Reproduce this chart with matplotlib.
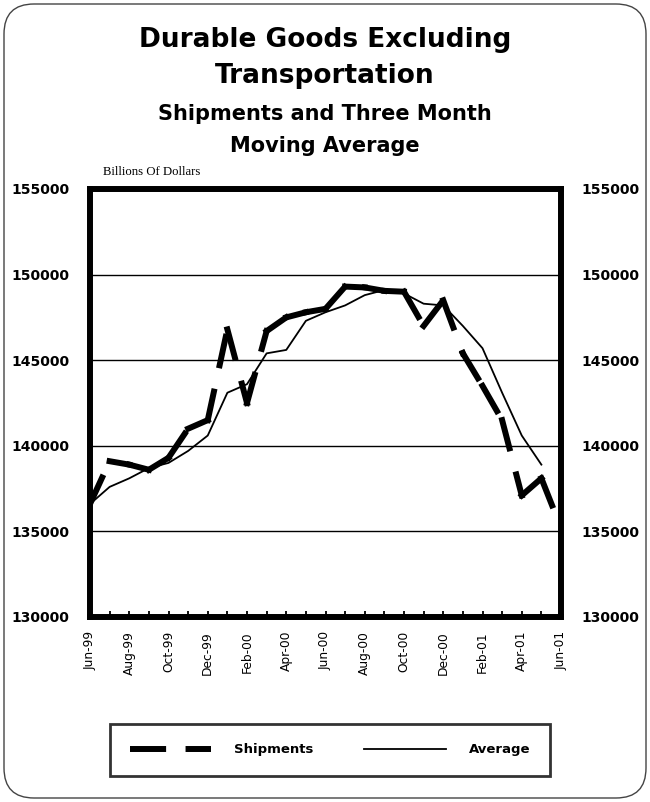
import matplotlib
matplotlib.use("Agg")
import matplotlib.pyplot as plt
from matplotlib.lines import Line2D
from matplotlib.patches import FancyBboxPatch
from matplotlib.transforms import IdentityTransform

# monthly data, Jun-99 .. Jun-01
months = ["Jun-99", "Jul-99", "Aug-99", "Sep-99", "Oct-99", "Nov-99", "Dec-99",
          "Jan-00", "Feb-00", "Mar-00", "Apr-00", "May-00", "Jun-00", "Jul-00",
          "Aug-00", "Sep-00", "Oct-00", "Nov-00", "Dec-00", "Jan-01", "Feb-01",
          "Mar-01", "Apr-01", "May-01", "Jun-01"]
shipments = [136600, 139100, 138900, 138600, 139300, 141000, 141500, 146800,
             142500, 146700, 147500, 147800, 148000, 149300, 149250, 149050,
             149000, 147000, 148500, 145400, 143500, 141500, 137100, 138100,
             135200]
average = [136600, 137600, 138100, 138700, 139000, 139700, 140600, 143100,
           143600, 145400, 145600, 147300, 147800, 148200, 148800, 149100,
           148900, 148300, 148200, 147000, 145700, 143100, 140600, 138900]
yticks = [130000, 135000, 140000, 145000, 150000, 155000]

plt.rcParams["font.family"] = "DejaVu Sans"
plt.rcParams["lines.scale_dashes"] = False

fig = plt.figure(figsize=(6.5, 8.02), dpi=100)
ax = fig.add_axes([90 / 650, 1 - 617 / 802, 471 / 650, 428 / 802])

# rounded outer frame
frame = FancyBboxPatch((4, 4), 642, 794, boxstyle="round,pad=0,rounding_size=30",
                       transform=IdentityTransform(), facecolor="white",
                       edgecolor="#444444", linewidth=1.0, zorder=-10)
fig.patches.append(frame)

x = list(range(len(months)))
ship_dash = (0, (21, 19.4))
# dash pattern restarts at every data point, like the original
for i in range(len(shipments) - 1):
    ax.plot(x[i:i + 2], shipments[i:i + 2], color="black", linewidth=4.3,
            linestyle=ship_dash, dash_capstyle="projecting", zorder=3)
ax.plot(x[:len(average)], average, color="black", linewidth=1.3, zorder=3)

ax.set_xlim(0, 24)
ax.set_ylim(130000, 155000)
ax.set_yticks(yticks)
ax.set_yticklabels([str(v) for v in yticks], fontsize=10, fontweight="bold")
ax.yaxis.grid(True, color="black", linewidth=1.0)
ax.tick_params(axis="y", length=0, pad=15, labelright=True)

ax.set_xticks(x)
ax.set_xticklabels([m if i % 2 == 0 else "" for i, m in enumerate(months)],
                   rotation=90, fontsize=8.8)
ax.tick_params(axis="x", direction="in", length=4, width=1.3, pad=10)

for s in ax.spines.values():
    s.set_linewidth(4.3)
    s.set_color("black")

fig.text(0.5, 1 - 40 / 802, "Durable Goods Excluding", ha="center", va="center",
         fontsize=19, fontweight="bold")
fig.text(0.5, 1 - 76 / 802, "Transportation", ha="center", va="center",
         fontsize=19, fontweight="bold")
fig.text(0.5, 1 - 114 / 802, "Shipments and Three Month", ha="center",
         va="center", fontsize=15, fontweight="bold")
fig.text(0.5, 1 - 146 / 802, "Moving Average", ha="center", va="center",
         fontsize=15, fontweight="bold")
fig.text(103 / 650, 1 - 175 / 802, "Billions Of Dollars", ha="left",
         va="baseline", fontsize=9.2, family="Liberation Serif")

handles = [Line2D([], [], color="black", linewidth=4.3, linestyle=(0, (26, 14))),
           Line2D([], [], color="black", linewidth=1.3)]
leg = fig.legend(handles, ["Shipments", "Average"], loc="center",
                 bbox_to_anchor=(330 / 650, 1 - 750 / 802), ncol=2,
                 prop={"weight": "bold", "size": 9.5},
                 handlelength=6.2, handletextpad=1.75, columnspacing=3.8,
                 borderpad=1.45, fancybox=False, frameon=True)
leg.get_frame().set_edgecolor("black")
leg.get_frame().set_linewidth(2)

fig.savefig("out.png", dpi=100, facecolor="white")
